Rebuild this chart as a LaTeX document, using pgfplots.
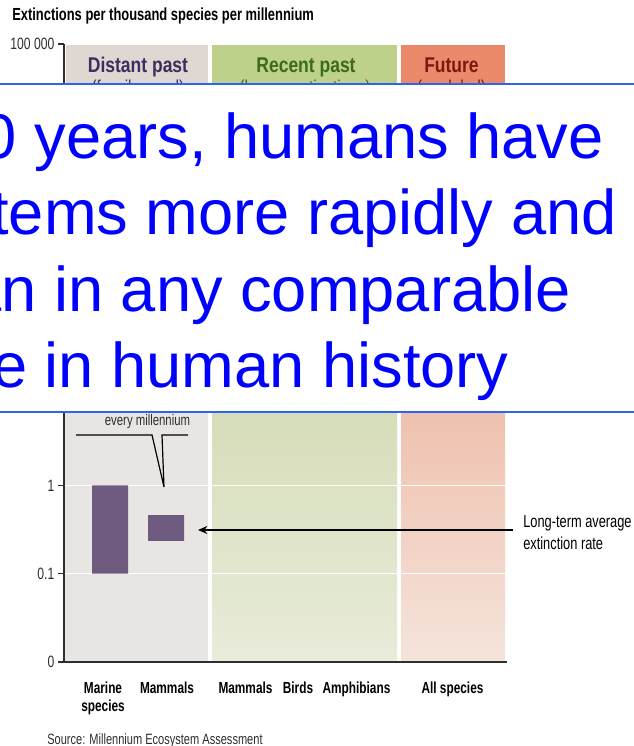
\documentclass[border=0pt]{standalone}
\usepackage{pgfplots}
\pgfplotsset{compat=1.18}
\usepackage{fontspec}
\setmainfont{Liberation Sans}
\newfontfamily\cond[FakeStretch=0.74]{Liberation Sans}
\newfontfamily\condh[FakeStretch=0.82]{Liberation Sans}
\usetikzlibrary{arrows.meta}
\definecolor{barpurple}{HTML}{6F5A7F}
\definecolor{dpbg}{HTML}{E9E5E2}
\definecolor{dphead}{HTML}{DED7D2}
\definecolor{dptext}{HTML}{3E2D5E}
\definecolor{rpbgtop}{HTML}{D6DDB9}
\definecolor{rpbgbot}{HTML}{E8ECDA}
\definecolor{rphead}{HTML}{BDD18B}
\definecolor{rptext}{HTML}{3C6B1E}
\definecolor{ftbgtop}{HTML}{EFC1AF}
\definecolor{ftbgbot}{HTML}{F5E4DB}
\definecolor{fthead}{HTML}{EA8A6B}
\definecolor{fttext}{HTML}{7A1A0E}
\definecolor{axisgray}{HTML}{2E2E2E}
\definecolor{boxblue}{HTML}{3062F0}
\definecolor{txtblue}{HTML}{0000FF}

\begin{document}
\begin{tikzpicture}[x=0.75pt,y=0.75pt]
\path[use as bounding box] (0,0) rectangle (634,-746);
% panel backgrounds
\fill[dpbg] (65,-100) rectangle (208,-662);
\fill[rpbgtop] (212,-100) rectangle (397,-412);
\shade[top color=rpbgtop,bottom color=rpbgbot] (212,-411) rectangle (397,-662);
\fill[ftbgtop] (401,-100) rectangle (505,-412);
\shade[top color=ftbgtop,bottom color=ftbgbot] (401,-411) rectangle (505,-662);
% headers
\fill[dphead] (66,-45) rectangle (208,-102);
\fill[rphead] (212,-45) rectangle (397,-102);
\fill[fthead] (401,-45) rectangle (505,-102);
\node[anchor=base, inner sep=0, text=dptext, font=\condh\bfseries\fontsize{16}{18}\selectfont] at (138,-72) {Distant past};
\node[anchor=base, inner sep=0, text=rptext, font=\condh\bfseries\fontsize{16}{18}\selectfont] at (306,-72) {Recent past};
\node[anchor=base, inner sep=0, text=fttext, font=\condh\bfseries\fontsize{16}{18}\selectfont] at (451.5,-72) {Future};
\node[anchor=base, inner sep=0, text=dptext, font=\condh\fontsize{14}{16}\selectfont] at (138,-93) {(fossil record)};
\node[anchor=base, inner sep=0, text=rptext, font=\condh\fontsize{14}{16}\selectfont] at (305,-93) {(known extinctions)};
\node[anchor=base, inner sep=0, text=fttext, font=\condh\fontsize{14}{16}\selectfont] at (451.5,-93) {(modeled)};
% title
\node[anchor=base west, inner sep=0, text=black, font=\cond\bfseries\fontsize{13.1}{15}\selectfont] at (12,-21) {Extinctions per thousand species per millennium};

\begin{axis}[
  at={(48pt,-496.5pt)}, anchor=south west,
  scale only axis, width=332.25pt, height=463.5pt,
  xmin=64, xmax=507, ymin=0, ymax=7,
  axis x line*=bottom, axis y line*=left,
  x axis line style={draw=axisgray, line width=1.5pt},
  y axis line style={draw=axisgray, line width=1pt},
  ytick={0,1,2,3,4,5,6,7},
  yticklabels={0,0.1,1,10,100,1 000,10 000,100 000},
  tick align=outside, major tick length=4.5pt,
  ytick style={draw=axisgray, line width=0.8pt},
  ymajorgrids, major grid style={draw=white, line width=0.9pt},
  xtick={103,167,245.5,298,356.5,452.5},
  xticklabels={{Marine\\species},Mammals,Mammals,Birds,Amphibians,All species},
  xtick style={draw=none},
  xticklabel style={align=center, yshift=-7.2pt, font=\cond\bfseries\fontsize{12}{13.5}\selectfont, text=black},
  yticklabel style={xshift=0.8pt, font=\cond\fontsize{12.3}{14}\selectfont, text=axisgray},
  y filter/.expression={log10(y)+2},
]
% Marine species (fossil record): 0.1 to 1
\addplot[fill=barpurple, draw=none, mark=none] coordinates {(92,0.1) (128,0.1) (128,1) (92,1) (92,0.1)};
% Mammals (fossil record): about 0.235 to 0.46
\addplot[fill=barpurple, draw=none, mark=none] coordinates {(148,0.235) (184,0.235) (184,0.46) (148,0.46) (148,0.235)};
\end{axis}

% annotations
\draw[black, line width=0.9pt, line join=miter] (76,-435) -- (152,-435) -- (164,-487) -- (162,-435) -- (188,-435);
\node[anchor=base, inner sep=0, text=axisgray, font=\cond\fontsize{11.5}{13}\selectfont] at (147.5,-425) {every millennium};
\draw[black, line width=1.1pt, -{Stealth[length=7pt,width=6pt]}] (513,-530) -- (198,-530);
\node[anchor=base west, inner sep=0, text=black, font=\cond\fontsize{13}{15}\selectfont] at (523,-527) {Long-term average};
\node[anchor=base west, inner sep=0, text=black, font=\cond\fontsize{13}{15}\selectfont] at (523,-549) {extinction rate};
\node[anchor=base west, inner sep=0, text=axisgray, font=\cond\fontsize{11.2}{13}\selectfont] at (47,-744) {Source: Millennium Ecosystem Assessment};

% overlay text box
\fill[white] (0,-84) rectangle (634,-412);
\draw[boxblue, line width=1.9pt] (0,-84) -- (634,-84);
\draw[boxblue, line width=1.9pt] (0,-412) -- (634,-412);
\begin{scope}
\clip (0,-84) rectangle (634,-412);
\begin{scope}[every node/.style={anchor=base east, inner sep=0, text=txtblue, font=\fontsize{47.4}{56}\selectfont}]
\node at (604,-158) {Over the past 50 years, humans have};
\node at (617,-234) {changed ecosystems more rapidly and};
\node at (571,-311) {extensively than in any comparable};
\node at (509,-387) {period of time in human history};
\end{scope}
\end{scope}
\end{tikzpicture}
\end{document}
